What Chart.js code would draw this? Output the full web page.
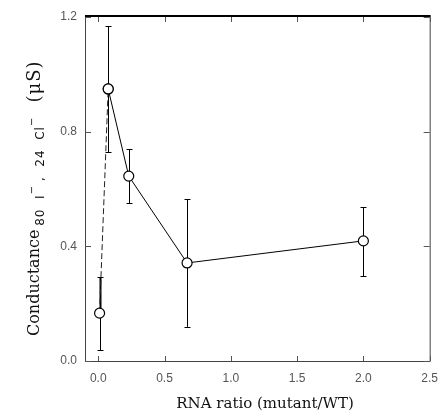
<!DOCTYPE html>
<html>
<head>
<meta charset="utf-8">
<script src="https://cdn.jsdelivr.net/npm/chart.js@4"></script>
<style>
  html, body { margin: 0; padding: 0; background: #fff; }
  canvas { display: block; }
</style>
</head>
<body>
<canvas id="chart" width="448" height="419"></canvas>
<script>
// RNA ratio (mutant/WT) vs conductance
const ratios = [0.01, 0.075, 0.23, 0.67, 2.0];
const conductance = [0.167, 0.949, 0.645, 0.342, 0.419];
const errHigh = [0.293, 1.168, 0.739, 0.565, 0.537];
const errLow = [0.038, 0.729, 0.551, 0.119, 0.296];
const xTicks = [0, 0.5, 1.0, 1.5, 2.0, 2.5];
const yTicks = [0, 0.4, 0.8, 1.2];

const pts = ratios.map((x, i) => ({ x: x, y: conductance[i] }));

// extra drawing: frame, inside ticks, error bars, axis titles
const figurePlugin = {
    id: 'figure',
    beforeDatasetsDraw(chart) {
        const ctx = chart.ctx;
        const xs = chart.scales.x, ys = chart.scales.y;
        const a = chart.chartArea;
        ctx.save();
        ctx.strokeStyle = '#444';
        ctx.lineWidth = 1;
        // frame
        ctx.beginPath();
        ctx.moveTo(a.left + 0.5, a.top);
        ctx.lineTo(a.left + 0.5, a.bottom + 0.5);
        ctx.lineTo(a.right + 0.5, a.bottom + 0.5);
        ctx.lineTo(a.right + 0.5, a.top);
        ctx.stroke();
        ctx.strokeStyle = '#000';
        ctx.lineWidth = 2;
        ctx.beginPath();
        ctx.moveTo(a.left, a.top - 1);
        ctx.lineTo(a.right + 1, a.top - 1);
        ctx.stroke();
        // inside ticks
        ctx.strokeStyle = '#555';
        ctx.lineWidth = 1;
        ctx.beginPath();
        xTicks.forEach(v => {
            const px = Math.round(xs.getPixelForValue(v)) + 0.5;
            ctx.moveTo(px, a.bottom); ctx.lineTo(px, a.bottom - 5);
            ctx.moveTo(px, a.top); ctx.lineTo(px, a.top + 5);
        });
        yTicks.forEach(v => {
            const py = Math.round(ys.getPixelForValue(v)) + 0.5;
            ctx.moveTo(a.left, py); ctx.lineTo(a.left + 6, py);
            ctx.moveTo(a.right, py); ctx.lineTo(a.right - 6, py);
        });
        ctx.stroke();
        // error bars
        ctx.strokeStyle = '#000';
        ratios.forEach((x, i) => {
            const px = Math.round(xs.getPixelForValue(x)) + 0.5;
            const pc = ys.getPixelForValue(conductance[i]);
            const ph = ys.getPixelForValue(errHigh[i]);
            const pl = ys.getPixelForValue(errLow[i]);
            ctx.lineWidth = i === 0 ? 2 : 1;
            ctx.beginPath();
            ctx.moveTo(px, pc); ctx.lineTo(px, ph);
            ctx.stroke();
            ctx.lineWidth = 1;
            ctx.beginPath();
            ctx.moveTo(px, pc); ctx.lineTo(px, pl);
            ctx.moveTo(px - 3, Math.round(ph) + 0.5); ctx.lineTo(px + 3, Math.round(ph) + 0.5);
            ctx.moveTo(px - 3, Math.round(pl) + 0.5); ctx.lineTo(px + 3, Math.round(pl) + 0.5);
            ctx.stroke();
        });
        ctx.restore();
    },
    afterDraw(chart) {
        const ctx = chart.ctx;
        ctx.save();
        ctx.fillStyle = '#111';
        // x title
        ctx.font = '15px "DejaVu Serif"';
        ctx.textAlign = 'center';
        ctx.textBaseline = 'middle';
        ctx.fillText('RNA ratio (mutant/WT)', 265, 404);
        // y title, rotated, with subscript part
        ctx.translate(0, 336);
        ctx.rotate(-Math.PI / 2);
        ctx.textAlign = 'left';
        ctx.textBaseline = 'alphabetic';
        // [text, font, baseline, letter spacing]
        const parts = [
            ['Conductance', '16px "DejaVu Serif"', 39, '0px'],
            [' ', '12px "DejaVu Sans"', 44, '0px'],
            ['80  I', '12px "DejaVu Sans"', 44, '1px'],
            ['\u2212', '10px "DejaVu Sans"', 35, '0px'],
            [' ,  24  Cl', '12px "DejaVu Sans"', 44, '1px'],
            ['\u2212', '10px "DejaVu Sans"', 35, '0px'],
            ['   ', '16px "DejaVu Serif"', 39, '0px'],
            ['(\u03bcS)', '18px "DejaVu Serif"', 40, '1px']
        ];
        let pos = 0;
        parts.forEach(p => {
            ctx.font = p[1];
            ctx.letterSpacing = p[3];
            ctx.fillText(p[0], pos, p[2]);
            pos += ctx.measureText(p[0]).width;
        });
        ctx.restore();
    }
};

const chart = new Chart(document.getElementById('chart').getContext('2d'), {
    type: 'scatter',
    data: {
        datasets: [{
            label: 'mix',
            data: pts.slice(1),
            showLine: true,
            borderColor: '#000',
            borderWidth: 1,
            pointRadius: 5,
            pointBorderWidth: 1.2,
            pointBackgroundColor: '#fff',
            pointBorderColor: '#000',
            order: 1
        },
        {
            label: 'wt',
            data: pts.slice(0, 2),
            showLine: true,
            borderColor: '#222',
            borderWidth: 1,
            borderDash: [6, 3],
            pointRadius: 5,
            pointBorderWidth: 1.2,
            pointBackgroundColor: '#fff',
            pointBorderColor: '#000',
            order: 0
        }]
    },
    options: {
        responsive: false,
        animation: false,
        devicePixelRatio: 1,
        layout: { padding: { left: 0, right: 15, top: 17, bottom: 0 } },
        plugins: {
            legend: { display: false },
            tooltip: { enabled: false }
        },
        scales: {
            x: {
                type: 'linear',
                min: -0.1,
                max: 2.5,
                afterBuildTicks: s => { s.ticks = xTicks.map(v => ({ value: v })); },
                afterFit: s => { s.height = 58; },
                grid: { display: false, drawTicks: false },
                border: { display: false },
                ticks: {
                    padding: 10,
                    color: '#555',
                    font: { family: 'Liberation Sans', size: 12 },
                    callback: v => v.toFixed(1)
                }
            },
            y: {
                type: 'linear',
                min: 0,
                max: 1.2,
                afterBuildTicks: s => { s.ticks = yTicks.map(v => ({ value: v })); },
                afterFit: s => { s.width = 85; },
                grid: { display: false, drawTicks: false },
                border: { display: false },
                ticks: {
                    padding: 8,
                    color: '#555',
                    font: { family: 'Liberation Sans', size: 12 },
                    callback: v => v.toFixed(1)
                }
            }
        }
    },
    plugins: [figurePlugin]
});
</script>
</body>
</html>
